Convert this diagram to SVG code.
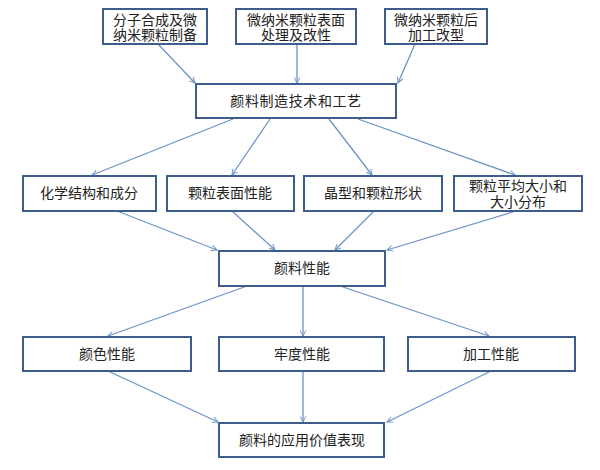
<svg xmlns="http://www.w3.org/2000/svg" width="600" height="470" viewBox="0 0 600 470">
<style>
.box{fill:#fff;stroke:#3d5e8c;stroke-width:2}
.t{font-family:"Liberation Sans","Noto Sans CJK SC",sans-serif;font-size:14px;fill:#222;text-anchor:middle;dominant-baseline:central}
.c{fill:none;stroke:#6d94c6;stroke-width:1.3;marker-end:url(#ah)}
</style>
<defs>
<marker id="ah" viewBox="0 0 10 10" refX="9" refY="5" markerWidth="7" markerHeight="7" markerUnits="userSpaceOnUse" orient="auto">
<path d="M1,1 L9,5 L1,9" fill="none" stroke="#6d94c6" stroke-width="1.4"/>
</marker>
</defs>
<rect width="600" height="470" fill="#fff"/>
<g id="connectors">
<line class="c" x1="158" y1="44" x2="195" y2="83"/>
<line class="c" x1="297" y1="44" x2="297" y2="83"/>
<line class="c" x1="415" y1="44" x2="398" y2="83"/>
<line class="c" x1="233" y1="119" x2="92" y2="175"/>
<line class="c" x1="270" y1="119" x2="232" y2="175"/>
<line class="c" x1="329" y1="119" x2="372" y2="175"/>
<line class="c" x1="358" y1="119" x2="515" y2="175"/>
<line class="c" x1="117" y1="211" x2="217" y2="250"/>
<line class="c" x1="232" y1="211" x2="275" y2="250"/>
<line class="c" x1="374" y1="211" x2="335" y2="250"/>
<line class="c" x1="516" y1="211" x2="387" y2="250"/>
<line class="c" x1="247" y1="286" x2="108" y2="336"/>
<line class="c" x1="303" y1="286" x2="303" y2="336"/>
<line class="c" x1="340" y1="286" x2="489" y2="336"/>
<line class="c" x1="108" y1="371" x2="218" y2="422"/>
<line class="c" x1="303" y1="371" x2="303" y2="422"/>
<line class="c" x1="491" y1="371" x2="387" y2="422"/>
</g>
<g id="n1"><rect class="box" x="103" y="9" width="104" height="35"/><text class="t" x="155" y="20">分子合成及微</text><text class="t" x="155" y="35">纳米颗粒制备</text></g>
<g id="n2"><rect class="box" x="236" y="9" width="120" height="35"/><text class="t" x="296" y="20">微纳米颗粒表面</text><text class="t" x="296" y="35">处理及改性</text></g>
<g id="n3"><rect class="box" x="385" y="9" width="102" height="35"/><text class="t" x="436" y="20">微纳米颗粒后</text><text class="t" x="436" y="35">加工改型</text></g>
<g id="n4"><rect class="box" x="196" y="84" width="200" height="34"/><text class="t" x="296" y="101" letter-spacing="0.6">颜料制造技术和工艺</text></g>
<g id="n5"><rect class="box" x="23" y="176" width="133" height="35"/><text class="t" x="89" y="193">化学结构和成分</text></g>
<g id="n6"><rect class="box" x="167" y="176" width="127" height="35"/><text class="t" x="230" y="193">颗粒表面性能</text></g>
<g id="n7"><rect class="box" x="304" y="176" width="138" height="35"/><text class="t" x="373" y="193">晶型和颗粒形状</text></g>
<g id="n8"><rect class="box" x="454" y="176" width="128" height="35"/><text class="t" x="518" y="186">颗粒平均大小和</text><text class="t" x="518" y="202">大小分布</text></g>
<g id="n9"><rect class="box" x="219" y="251" width="166" height="35"/><text class="t" x="302" y="268">颜料性能</text></g>
<g id="n10"><rect class="box" x="23" y="337" width="168" height="34"/><text class="t" x="107" y="354">颜色性能</text></g>
<g id="n11"><rect class="box" x="219" y="337" width="165" height="34"/><text class="t" x="302" y="354">牢度性能</text></g>
<g id="n12"><rect class="box" x="408" y="337" width="167" height="34"/><text class="t" x="491" y="354">加工性能</text></g>
<g id="n13"><rect class="box" x="219" y="423" width="165" height="34"/><text class="t" x="302" y="440">颜料的应用价值表现</text></g>
</svg>
